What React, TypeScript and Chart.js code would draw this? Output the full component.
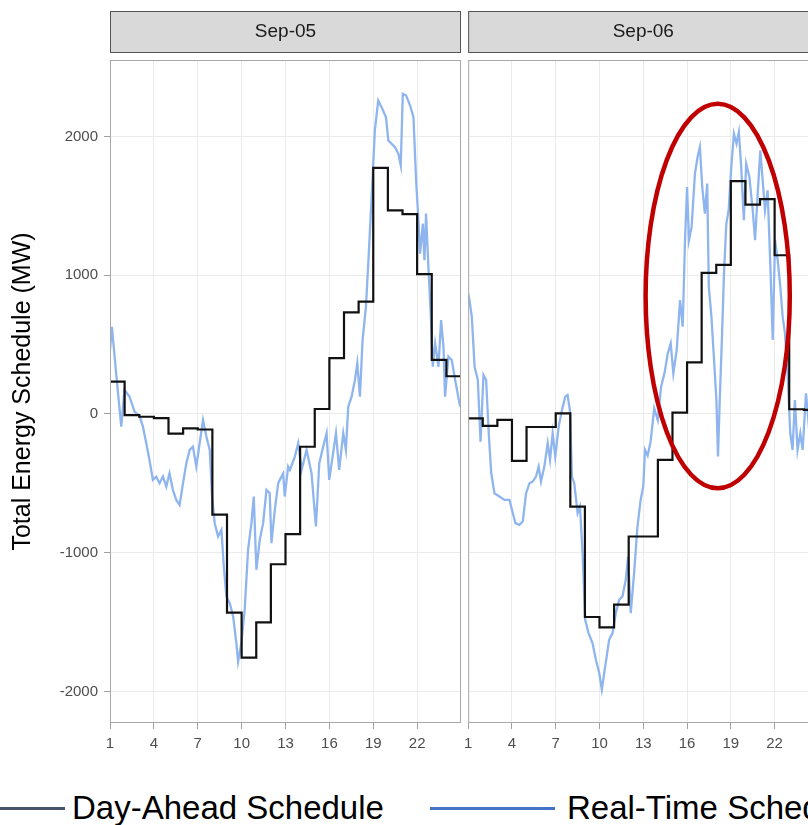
import React, { useEffect, useRef } from "react";
import { Chart, registerables } from "chart.js";

Chart.register(...registerables);

// ---------------- data ----------------
const DAYS = ["Sep-05", "Sep-06"];
const HOURS = [1, 2, 3, 4, 5, 6, 7, 8, 9, 10, 11, 12, 13, 14, 15, 16, 17, 18, 19, 20, 21, 22, 23, 24];
const X_TICKS = [1, 4, 7, 10, 13, 16, 19, 22];
const Y_TICKS = [-2000, -1000, 0, 1000, 2000];
const Y_TITLE = "Total Energy Schedule (MW)";
const LEGEND_LABELS = ["Day-Ahead Schedule", "Real-Time Schedule"];

const SEP05_DA = [233, -8, -20, -30, -142, -104, -112, -725, -1432, -1756, -1502, -1083, -866, -236, 36, 402, 732, 810, 1773, 1468, 1440, 1008, 390, 272];
const SEP06_DA = [-31, -86, -43, -338, -94, -94, 5, -667, -1463, -1538, -1374, -883, -883, -331, 10, 372, 1017, 1074, 1678, 1509, 1549, 1144, 34, 30];

const SEP05_RT_HOURS = [1.0, 1.13, 1.42, 1.77, 1.99, 2.33, 2.68, 3.02, 3.25, 3.48, 3.7, 3.93, 4.16, 4.39, 4.62, 4.85, 5.07, 5.3, 5.53, 5.76, 5.99, 6.22, 6.45, 6.67, 6.9, 7.13, 7.36, 7.59, 7.82, 7.98, 8.16, 8.39, 8.62, 8.78, 8.96, 9.19, 9.42, 9.64, 9.76, 9.98, 10.21, 10.44, 10.67, 10.83, 11.01, 11.24, 11.47, 11.7, 11.92, 12.04, 12.27, 12.5, 12.61, 12.84, 12.95, 13.18, 13.3, 13.64, 13.87, 14.1, 14.44, 14.78, 15.08, 15.31, 15.58, 15.81, 15.99, 16.22, 16.45, 16.67, 16.95, 17.13, 17.29, 17.52, 17.75, 17.91, 18.09, 18.27, 18.5, 18.66, 18.89, 19.11, 19.34, 19.57, 19.87, 20.03, 20.26, 20.49, 20.72, 20.88, 21.02, 21.25, 21.52, 21.75, 21.93, 22.09, 22.2, 22.39, 22.5, 22.61, 22.77, 22.93, 23.07, 23.23, 23.46, 23.64, 23.8, 23.91, 24.14, 24.37, 24.6, 24.94];
const SEP05_RT_MW = [460, 628, 293, -91, 173, 125, 17, -14, -91, -211, -331, -475, -451, -499, -451, -523, -427, -547, -619, -655, -499, -355, -259, -235, -379, -211, -43, -163, -259, -595, -787, -883, -835, -1099, -1315, -1363, -1459, -1651, -1784, -1651, -1411, -979, -787, -595, -1123, -907, -787, -547, -571, -931, -691, -499, -475, -430, -595, -379, -403, -307, -211, -403, -259, -427, -811, -355, -235, -139, -475, -307, -139, -403, -139, -259, 53, 125, 245, 365, 125, 533, 773, 1085, 1564, 2044, 2259, 2211, 2139, 1971, 1947, 1923, 1875, 1791, 2307, 2295, 2223, 2139, 1683, 1395, 1156, 1372, 1108, 1444, 1060, 725, 341, 509, 341, 677, 485, 125, 413, 389, 245, 53];

const SEP06_RT_HOURS = [1.0, 1.09, 1.25, 1.44, 1.66, 1.85, 2.05, 2.23, 2.41, 2.58, 2.8, 3.14, 3.49, 3.83, 4.06, 4.24, 4.51, 4.74, 4.97, 5.2, 5.42, 5.65, 5.83, 5.99, 6.22, 6.45, 6.61, 6.79, 6.97, 7.2, 7.43, 7.65, 7.81, 7.97, 8.11, 8.27, 8.5, 8.66, 8.84, 9.02, 9.25, 9.52, 9.75, 9.98, 10.16, 10.39, 10.66, 10.89, 11.12, 11.35, 11.57, 11.8, 11.96, 12.14, 12.37, 12.6, 12.82, 13.0, 13.12, 13.3, 13.5, 13.75, 13.99, 14.22, 14.45, 14.68, 14.88, 15.06, 15.29, 15.52, 15.7, 15.86, 16.0, 16.13, 16.31, 16.54, 16.72, 16.88, 17.04, 17.22, 17.38, 17.49, 17.67, 17.85, 18.01, 18.12, 18.24, 18.4, 18.53, 18.69, 18.85, 19.03, 19.21, 19.39, 19.55, 19.71, 19.89, 20.05, 20.27, 20.5, 20.66, 20.84, 21.02, 21.18, 21.34, 21.52, 21.71, 21.87, 22.03, 22.21, 22.39, 22.55, 22.71, 22.89, 23.07, 23.23, 23.39, 23.57, 23.76, 23.92, 24.15, 24.4, 24.7, 24.95];
const SEP06_RT_MW = [868, 820, 700, 341, 245, -200, 281, 245, -139, -427, -571, -595, -619, -619, -715, -787, -799, -775, -571, -499, -487, -451, -379, -487, -379, -211, -331, -139, -307, -91, 29, 125, 137, 29, -451, -499, -715, -667, -1003, -1483, -1579, -1651, -1771, -1867, -1987, -1819, -1627, -1579, -1435, -1339, -1315, -1195, -1027, -1435, -1147, -811, -619, -520, -259, -300, -200, 40, -43, 197, 293, 437, 509, 293, 461, 821, 629, 1252, 1636, 1252, 1348, 1732, 1852, 1924, 1636, 1444, 1660, 917, 701, 389, 101, -307, 101, 581, 1013, 1372, 1468, 1780, 2020, 1948, 2032, 1780, 1396, 1804, 1708, 1468, 1252, 1588, 1900, 1684, 1468, 1612, 1061, 533, 1252, 1108, 917, 701, 581, 293, -139, -259, 101, -259, -139, -259, 149, -150, -250, -200];

// highlighted region on Sep-06 (data coordinates)
const HIGHLIGHT = { hour: 18.1, mw: 850, halfHours: 4.94, halfMw: 1385 };

// axis limits
const X_MIN = 1;
const X_MAX = 25;
const Y_MIN = -2227;
const Y_MAX = 2551;

const FONT = '"Liberation Sans", Arial, Helvetica, sans-serif';

function daSteps(values: number[]) {
  const pts = HOURS.map((h, i) => ({ x: h, y: values[i] }));
  pts.push({ x: HOURS[HOURS.length - 1] + 1, y: values[values.length - 1] });
  return pts;
}
function rtPoints(hours: number[], mw: number[]) {
  return hours.map((h, i) => ({ x: h, y: mw[i] }));
}

const panelDecor = {
  id: "panelDecor",
  afterDraw(chart: any, _args: any, opts: any) {
    const { ctx, chartArea } = chart;
    const { left, right, top, bottom } = chartArea;
    ctx.save();
    ctx.strokeStyle = "#a8a8a8";
    ctx.lineWidth = 1;
    ctx.strokeRect(left + 0.5, top + 0.5, right - left - 1, bottom - top - 1);
    // facet strip
    ctx.fillStyle = "#d9d9d9";
    ctx.fillRect(left, 11, right - left, 42);
    ctx.strokeStyle = "#555555";
    ctx.strokeRect(left + 0.5, 11.5, right - left - 1, 41);
    ctx.fillStyle = "#1a1a1a";
    ctx.font = `19px ${FONT}`;
    ctx.textAlign = "center";
    ctx.textBaseline = "middle";
    ctx.fillText(opts.label, (left + right) / 2, 32);
    ctx.restore();
  },
};

const ellipsePlugin = {
  id: "highlightEllipse",
  afterDatasetsDraw(chart: any, _args: any, opts: any) {
    if (!opts || !opts.show) return;
    const { ctx, scales } = chart;
    const cx = scales.x.getPixelForValue(HIGHLIGHT.hour);
    const cy = scales.y.getPixelForValue(HIGHLIGHT.mw);
    const rx = Math.abs(scales.x.getPixelForValue(HIGHLIGHT.hour + HIGHLIGHT.halfHours) - cx);
    const ry = Math.abs(scales.y.getPixelForValue(HIGHLIGHT.mw + HIGHLIGHT.halfMw) - cy);
    ctx.save();
    ctx.beginPath();
    ctx.ellipse(cx, cy, rx, ry, 0, 0, Math.PI * 2);
    ctx.strokeStyle = "#c00000";
    ctx.lineWidth = 4.5;
    ctx.stroke();
    ctx.restore();
  },
};

function makeChart(canvas: HTMLCanvasElement, day: number, showY: boolean) {
  const da = day === 0 ? SEP05_DA : SEP06_DA;
  const rt = day === 0 ? rtPoints(SEP05_RT_HOURS, SEP05_RT_MW) : rtPoints(SEP06_RT_HOURS, SEP06_RT_MW);
  return new Chart(canvas, {
    type: "line",
    data: {
      datasets: [
        {
          label: LEGEND_LABELS[0],
          data: daSteps(da),
          borderColor: "#111111",
          borderWidth: 2.2,
          pointRadius: 0,
          stepped: "before",
          fill: false,
        },
        {
          label: LEGEND_LABELS[1],
          data: rt,
          borderColor: "#8fb5ef",
          borderWidth: 2.3,
          pointRadius: 0,
          tension: 0,
          fill: false,
        },
      ],
    },
    options: {
      responsive: false,
      animation: false,
      devicePixelRatio: 1,
      layout: showY
        ? { padding: { top: 60, left: 0, right: 3, bottom: 0 } }
        : { padding: { top: 60, left: 0, right: 3.6, bottom: 0 } },
      plugins: {
        legend: { display: false },
        tooltip: { enabled: false },
        panelDecor: { label: DAYS[day] },
        highlightEllipse: { show: day === 1 },
      } as any,
      scales: {
        x: {
          type: "linear",
          min: X_MIN,
          max: X_MAX,
          afterBuildTicks: (s: any) => {
            s.ticks = X_TICKS.map((v) => ({ value: v }));
          },
          afterFit: (s: any) => {
            s.height = 47;
          },
          grid: { color: "#ebebeb", lineWidth: 1, tickColor: "#a0a0a0", tickLength: 6 },
          border: { display: false },
          ticks: {
            color: "#4d4d4d",
            font: { family: FONT, size: 15 },
            padding: 6,
            maxRotation: 0,
            autoSkip: false,
            callback: (v: any) => String(v),
          },
        },
        y: {
          type: "linear",
          min: Y_MIN,
          max: Y_MAX,
          afterBuildTicks: (s: any) => {
            s.ticks = Y_TICKS.map((v) => ({ value: v }));
          },
          afterFit: (s: any) => {
            s.width = showY ? 110 : 9.3;
          },
          grid: { color: "#ebebeb", lineWidth: 1, tickColor: "#a0a0a0", tickLength: 6, drawTicks: showY },
          border: { display: false },
          ticks: {
            display: showY,
            color: "#4d4d4d",
            font: { family: FONT, size: 15 },
            padding: 6,
            callback: (v: any) => String(v),
          },
          title: {
            display: showY,
            text: Y_TITLE,
            color: "#000000",
            font: { family: FONT, size: 25, lineHeight: 1.2 },
            padding: { top: 8, bottom: 0 },
          },
        },
      },
    } as any,
    plugins: [panelDecor, ellipsePlugin],
  });
}

export default function App() {
  const ref1 = useRef<HTMLCanvasElement>(null);
  const ref2 = useRef<HTMLCanvasElement>(null);

  useEffect(() => {
    const c1 = makeChart(ref1.current!, 0, true);
    const c2 = makeChart(ref2.current!, 1, false);
    return () => {
      c1.destroy();
      c2.destroy();
    };
  }, []);

  const legendText: React.CSSProperties = {
    position: "absolute",
    top: 791,
    fontFamily: FONT,
    fontSize: 33,
    lineHeight: "33px",
    color: "#000",
    whiteSpace: "nowrap",
  };

  return (
    <div
      style={{
        position: "fixed",
        left: 0,
        top: 0,
        width: 808,
        height: 825,
        overflow: "hidden",
        background: "#ffffff",
      }}
    >
      <canvas ref={ref1} width={464} height={770} style={{ position: "absolute", left: 0, top: 0 }} />
      <canvas ref={ref2} width={364} height={770} style={{ position: "absolute", left: 458, top: 0 }} />
      <div style={{ position: "absolute", left: 0, top: 806.5, width: 65, height: 3, background: "#44546a" }} />
      <div style={{ ...legendText, left: 72 }}>{LEGEND_LABELS[0]}</div>
      <div style={{ position: "absolute", left: 430, top: 806.5, width: 125, height: 3, background: "#4472c4" }} />
      <div style={{ ...legendText, left: 567 }}>{LEGEND_LABELS[1]}</div>
    </div>
  );
}
